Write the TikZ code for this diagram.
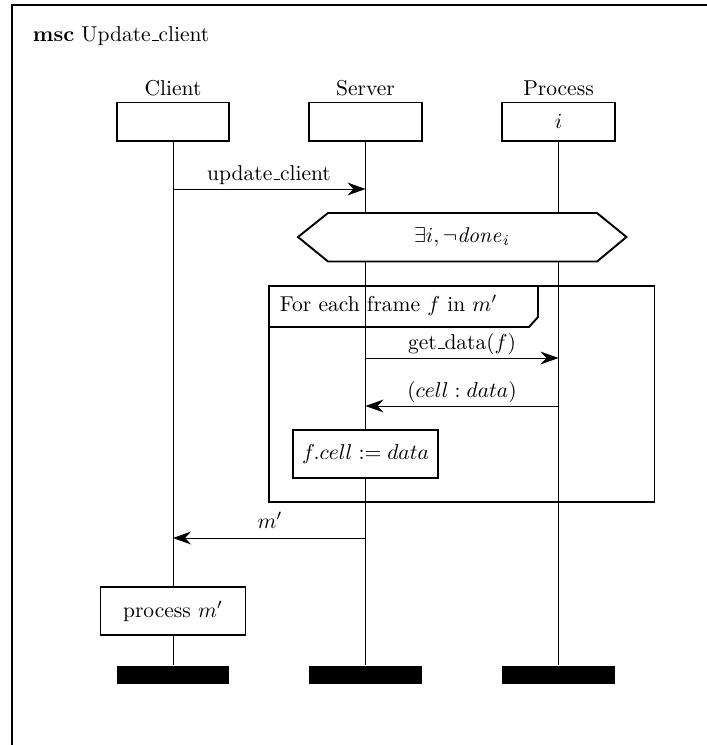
\documentclass[tikz,border=0pt]{standalone}
\usetikzlibrary{arrows.meta,backgrounds}
\newcommand\myus{\leavevmode\kern.06em\vbox{\hrule width.3em height 0.4pt}}
\begin{document}
\begin{tikzpicture}[x=0.465pt,y=-0.465pt, line width=0.9pt,
  headbox/.style={draw, fill=white, inner sep=0pt, minimum width=52.5pt, minimum height=17.7pt},
  endbar/.style={fill=black, inner sep=0pt, minimum width=52.5pt, minimum height=8.4pt},
  actbox/.style={draw, fill=white, inner sep=0pt, minimum width=67.4pt, minimum height=22.3pt},
  msg/.style={-{Stealth[length=8.4pt,width=6pt,inset=2.8pt]}},
  lbl/.style={anchor=base, inner sep=0pt}
]
\useasboundingbox (0,0) rectangle (707,745);
% outer frame (cropped)
\draw (12,745) -- (12,5) -- (707,5);
\node[anchor=base west, inner sep=0pt] (title) at (32,41) {\textbf{msc} Update\myus client};

% instance names
\node[lbl] (cname) at (173,95) {Client};
\node[lbl] (sname) at (365.5,95) {Server};
\node[lbl] (pname) at (558.5,95) {Process};

% heads
\node[headbox] (chead) at (173,121.5) {};
\node[headbox] (shead) at (365.5,121.5) {};
\node[headbox] (phead) at (558.5,121.5) {$i$};

% end bars
\node[endbar] (cend) at (173,675) {};
\node[endbar] (send) at (365.5,675) {};
\node[endbar] (pend) at (558.5,675) {};

% condition
\coordinate (hl) at (298,237);
\coordinate (hr) at (626.5,237);
\draw[fill=white] (hl) -- (328,213) -- (597,213) -- (hr) -- (597,261.5) -- (328,261.5) -- cycle;
\node (cond) at (462,237) {$\exists i, \neg \mathit{done}_i$};

% loop frame
\draw (269,286) rectangle (654.5,502);
\draw (269,327) -- (529,327) -- (538,317) -- (538,286);
\node[anchor=base west, inner sep=0pt] (looplbl) at (279,311) {For each frame $f$ in $m'$};

% action boxes
\node[actbox] (act) at (365.5,454) {$f.cell := data$};
\node[actbox] (proc) at (173,611) {process $m'$};

% lifelines
\begin{pgfonlayer}{background}
\draw (chead.south) -- (cend.north);
\draw (shead.south) -- (send.north);
\draw (phead.south) -- (pend.north);
\end{pgfonlayer}

% messages
\coordinate (c1) at (173,189);
\coordinate (s1) at (365.5,189);
\draw[msg] (c1) -- (s1);
\node[lbl] (m1) at (269,180) {update\myus client};

\coordinate (s2) at (365.5,358);
\coordinate (p2) at (558.5,358);
\draw[msg] (s2) -- (p2);
\node[lbl] (m2) at (462,349) {get\myus data($f$)};

\coordinate (p3) at (558.5,406);
\coordinate (s3) at (365.5,406);
\draw[msg] (p3) -- (s3);
\node[lbl] (m3) at (462,397) {$(cell : data)$};

\coordinate (s4) at (365.5,538);
\coordinate (c4) at (173,538);
\draw[msg] (s4) -- (c4);
\node[lbl] (m4) at (270,528) {$m'$};
\end{tikzpicture}
\end{document}
